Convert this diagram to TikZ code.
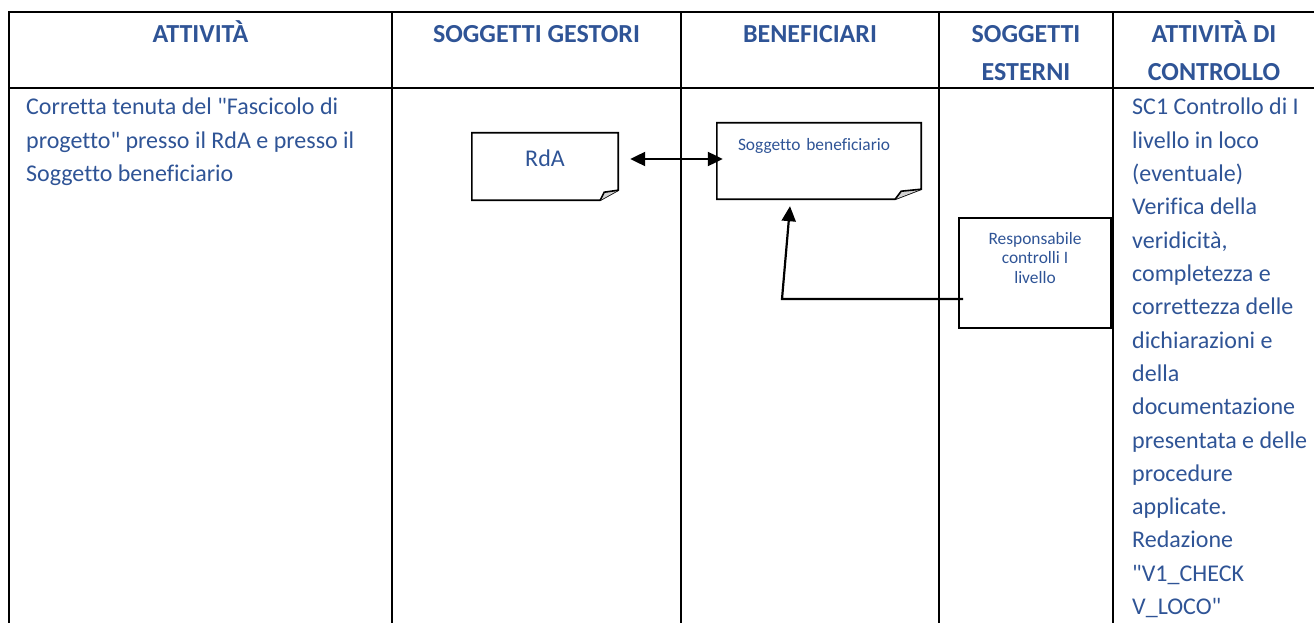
\documentclass[tikz,border=0pt]{standalone}
\usepackage{fontspec}
\setmainfont{Carlito}[Ligatures=NoCommon]
\usetikzlibrary{arrows.meta,positioning}
\definecolor{testo}{HTML}{2F5496}
\tikzset{
  tabline/.style={line width=2.2pt, line cap=rect},
  boxline/.style={line width=1.6pt},
  colhead/.style={font=\bfseries\fontsize{26}{37.5}\selectfont, text=testo, anchor=base, inner sep=0pt},
  celltext/.style={font=\fontsize{24}{33.3}\selectfont, text=testo, anchor=base west, inner sep=0pt},
  docbox/.style={inner sep=0pt, text=testo, font=\fontsize{24}{29}\selectfont},
  smalltext/.style={font=\fontsize{17.4}{19.5}\selectfont},
  arrowline/.style={line width=2.2pt},
}
\begin{document}
\begin{tikzpicture}[x=1pt,y=-1pt,>={Triangle[length=15pt,width=14pt]}]
\useasboundingbox (0,0) rectangle (1314,623);
% tabella
\draw[tabline] (9,12) -- (1314,12) (9,88) -- (1314,88);
\draw[tabline] (9,12) -- (9,623) (392,12) -- (392,623) (681,12) -- (681,623) (939,12) -- (939,623) (1113,12) -- (1113,623);
% intestazioni
\node[colhead] (hatt) at (200.5,43) {ATTIVITÀ};
\node[colhead] (hges) at (536.5,43) {SOGGETTI GESTORI};
\node[colhead] (hben) at (810,43) {BENEFICIARI};
\node[colhead] (hest) at (1026,43) {\parbox[t]{160pt}{\centering SOGGETTI\\ESTERNI}};
\node[colhead] (hctr) at (1214,43) {\parbox[t]{190pt}{\centering ATTIVITÀ DI\\CONTROLLO}};
% testi delle celle
\node[celltext] (att) at (26,115) {\parbox[t]{360pt}{Corretta tenuta del \textquotedbl Fascicolo di\\progetto\textquotedbl{} presso il RdA e presso il\\Soggetto beneficiario}};
\node[celltext] (ctrl) at (1132,115) {\parbox[t]{200pt}{SC1 Controllo di I\\livello in loco\\(eventuale)\\Verifica della\\veridicità,\\completezza e\\correttezza delle\\dichiarazioni e\\della\\documentazione\\presentata e delle\\procedure\\applicate.\\Redazione\\\textquotedbl V1\_CHECK\\V\_LOCO\textquotedbl}};
% documenti
\node[docbox, minimum width=146pt, minimum height=67pt, text height=17pt, text depth=18pt] (rda) at (545,166.5) {RdA};
\node[docbox, smalltext, minimum width=204pt, minimum height=76pt, text width=162pt, align=left, text height=12pt, text depth=34pt] (sog) at (819,161) {Soggetto beneficiario};
\node[docbox, smalltext, draw, boxline, minimum width=152pt, minimum height=110pt, text height=12pt, text depth=70pt] (resp) at (1035,273) {\parbox[t]{140pt}{\centering Responsabile\\controlli I\\livello}};
\draw[boxline] (rda.south west) -- (rda.north west) -- (rda.north east) -- ([shift={(0,-10)}]rda.south east) -- ([shift={(-18,0)}]rda.south east) -- cycle;
\draw[boxline, fill=gray!35] ([shift={(-18,0)}]rda.south east) -- ([shift={(-14,-8)}]rda.south east) -- ([shift={(0,-10)}]rda.south east);
\draw[boxline] (sog.south west) -- (sog.north west) -- (sog.north east) -- ([shift={(0,-10)}]sog.south east) -- ([shift={(-26,0)}]sog.south east) -- cycle;
\draw[boxline, fill=gray!35] ([shift={(-26,0)}]sog.south east) -- ([shift={(-20,-8)}]sog.south east) -- ([shift={(0,-10)}]sog.south east);
% frecce
\draw[arrowline, <->] ([shift={(12,-7.5)}]rda.east) -- ([shift={(6,-2)}]sog.west);
\coordinate (gomito) at (782,299);
\coordinate (punta) at ([shift={(-29,7)}]sog.south);
\draw[arrowline, ->] ([shift={(5,26)}]resp.west) -- (gomito) -- (punta);
\end{tikzpicture}
\end{document}
